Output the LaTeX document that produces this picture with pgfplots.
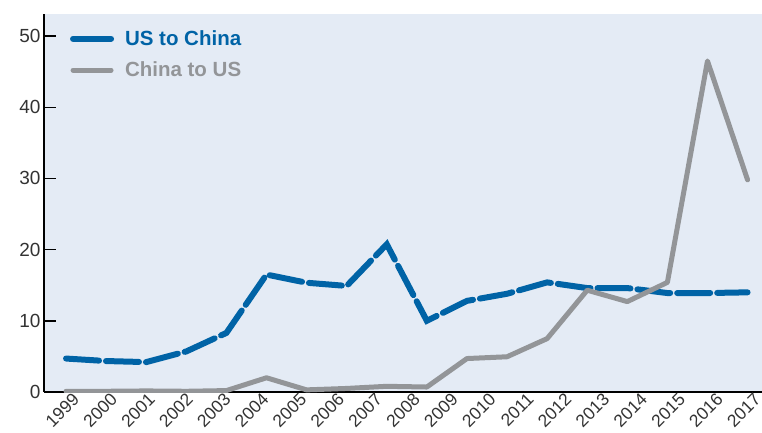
\documentclass[border=0pt]{standalone}
\usepackage{pgfplots}
\pgfplotsset{compat=1.18}
\usepackage{fontspec}
\setmainfont{Liberation Sans}
\definecolor{bgblue}{HTML}{E4EBF5}
\definecolor{usblue}{HTML}{0063A6}
\definecolor{cngray}{HTML}{939598}
\definecolor{ticktext}{HTML}{333333}

\begin{document}
\begin{tikzpicture}
\begin{axis}[
    width=718pt, height=378pt, scale only axis,
    xmin=-0.55, xmax=17.36,
    ymin=0, ymax=53.1,
    axis lines*=left,
    axis line style={black, line width=1.8pt},
    axis background/.style={fill=bgblue},
    ytick={0,10,20,30,40,50},
    xtick={0,0.9444,1.8889,2.8333,3.7778,4.7222,5.6667,6.6111,7.5556,8.5,
           9.4444,10.3889,11.3333,12.2778,13.2222,14.1667,15.1111,16.0556,17},
    xticklabels={1999,2000,2001,2002,2003,2004,2005,2006,2007,2008,
                 2009,2010,2011,2012,2013,2014,2015,2016,2017},
    /pgf/number format/assume math mode=true,
    tick align=inside,
    major tick length=12pt,
    xtick style={draw=none},
    ytick style={black, line width=1.5pt},
    x tick label style={rotate=45, anchor=north east, inner sep=0pt,
        xshift=4pt, yshift=-4pt,
        font=\fontsize{17.5}{19}\selectfont, text=ticktext},
    y tick label style={font=\fontsize{19}{21}\selectfont, text=ticktext},
    legend style={draw=none, fill=none, at={(0.036,0.962)}, anchor=north west,
        font=\fontsize{20.5}{22}\selectfont\bfseries, row sep=11pt,
        column sep=9pt, inner xsep=0pt, inner ysep=0pt},
    legend cell align=left,
    legend image code/.code={\draw[#1, solid] (0pt,0pt) -- (38pt,0pt);},
]

\addplot[color=usblue, line width=6pt, line cap=round,
    dash pattern=on 33pt off 7pt]
    coordinates {
(0,4.7) (1,4.35) (2,4.2) (3,5.7) (4,8.3) (5,16.5) (6,15.35) (7,14.9) (8,20.75)
(9,10.0) (10,12.8) (11,13.8) (12,15.4) (13,14.6) (14,14.6) (15,13.9) (16,13.9) (17,14.0)
    };
\addlegendentry{\textcolor{usblue}{US to China}}

\addplot[color=cngray, line width=5pt, line cap=round, line join=round]
    coordinates {
(0,0.1) (1,0.1) (2,0.15) (3,0.1) (4,0.2) (5,2.0) (6,0.3) (7,0.5) (8,0.8)
(9,0.7) (10,4.7) (11,4.95) (12,7.5) (13,14.3) (14,12.7) (15,15.4) (16,46.5) (17,29.8)
    };
\addlegendentry{\textcolor{cngray}{China to US}}

\end{axis}
\pgfresetboundingbox
\path[use as bounding box] (-44pt,-40pt) rectangle (718pt,392pt);
\end{tikzpicture}
\end{document}
